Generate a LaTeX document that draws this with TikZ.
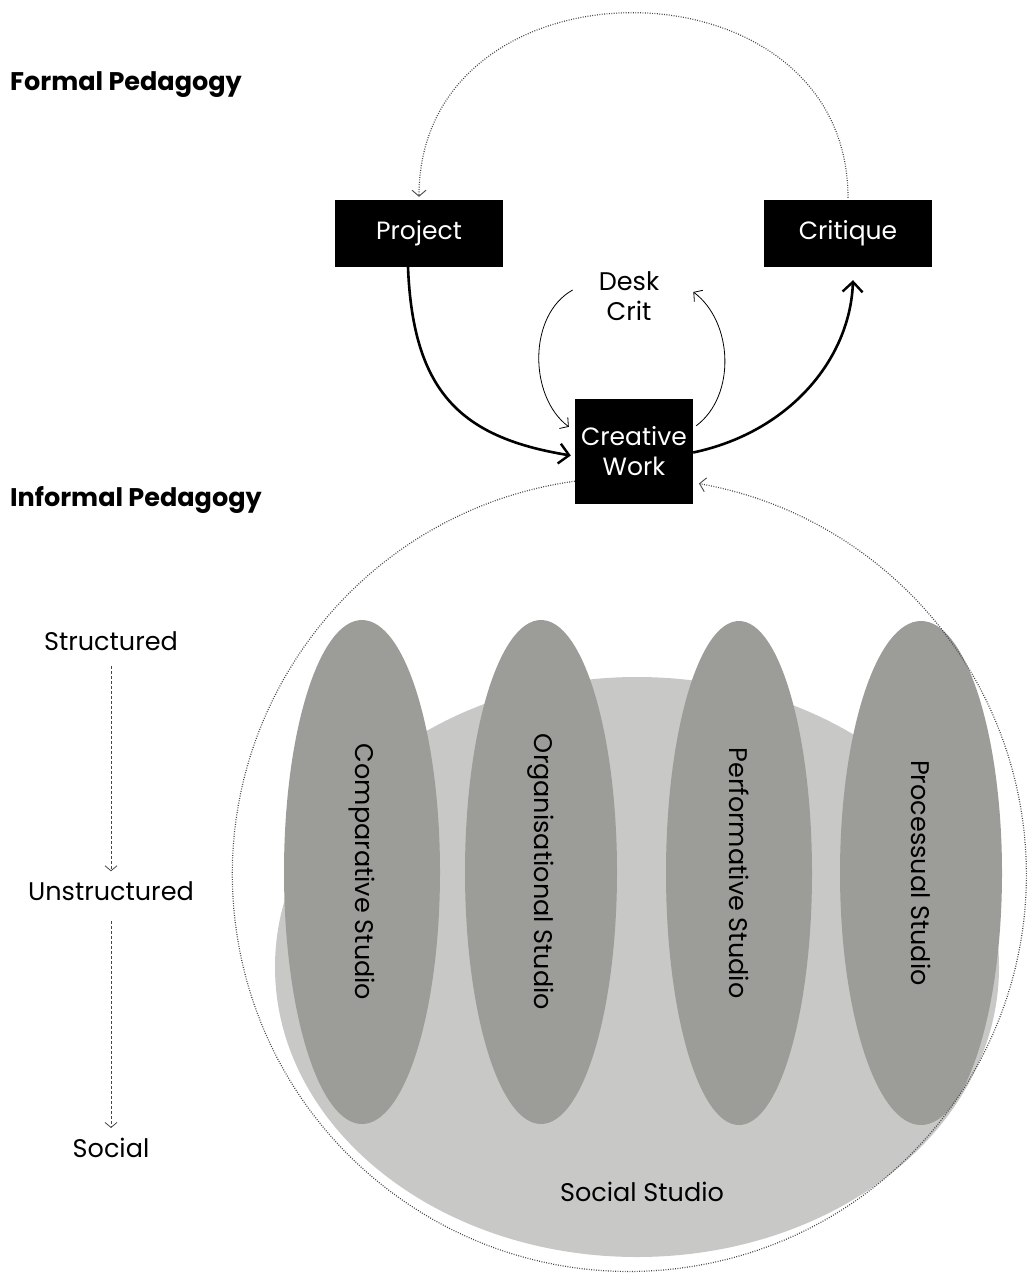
\documentclass[tikz,border=0pt]{standalone}
\usepackage{fontspec}
\setmainfont{Poppins}
\usetikzlibrary{arrows.meta,shapes.geometric}
\definecolor{lightg}{RGB}{200,200,199}
\definecolor{darkg}{RGB}{156,156,153}
\definecolor{dotg}{RGB}{70,70,70}
\begin{document}
\begin{tikzpicture}[x=1pt,y=-1pt,
  lbl/.style={font=\fontsize{25.5}{30}\selectfont, inner sep=0pt, align=center},
  head/.style={font=\fontsize{25.5}{30}\selectfont\bfseries, inner sep=0pt, anchor=west},
  blk/.style={fill=black, text=white, font=\fontsize{25}{30}\selectfont, align=center, inner sep=0pt},
  studio/.style={ellipse, fill=darkg, inner sep=0pt, rotate=-90, minimum width=504pt, font=\fontsize{25.5}{30}\selectfont},
  bigarr/.style={line width=2.6pt, -{Straight Barb[length=10pt,width=20pt,line width=2.4pt]}},
  smallarr/.style={line width=0.8pt, -{Straight Barb[length=6pt,width=14pt,line width=0.8pt]}},
  dots/.style={draw=dotg, line width=1.2pt, dash pattern=on 0.9pt off 1.5pt},
  dotarr/.style={dots, -{Straight Barb[length=6pt,width=14pt,line width=0.9pt]}},
  dasharr/.style={draw=dotg, line width=0.9pt, dash pattern=on 3pt off 2pt, -{Straight Barb[length=5pt,width=12pt,line width=0.8pt]}}
]
\useasboundingbox (0,0) rectangle (1027,1279);

% Social studio background
\node[ellipse, fill=lightg, minimum width=724pt, minimum height=580pt, inner sep=0pt] (soc) at (637,967) {};
\node[lbl] (soct) at (642,1192) {Social Studio};

% Studio ellipses
\node[studio, minimum height=156pt] (comp) at (362,872) {Comparative Studio};
\node[studio, minimum height=152pt] (org) at (541,872) {Organisational Studio};
\node[studio, minimum height=146pt] (perf) at (739,873) {Performative Studio};
\node[studio, minimum height=162pt] (proc) at (921,873) {Processual Studio};

% headings
\node[head] (fp) at (10,85) {Formal Pedagogy};
\node[head] (ip) at (10,500) {Informal Pedagogy};

% boxes
\node[blk, minimum width=168pt, minimum height=67pt] (proj) at (419,233.5) {Project};
\node[blk, minimum width=168pt, minimum height=67pt] (crit) at (848,233.5) {Critique};
\node[blk, minimum width=118pt, minimum height=105pt] (cw) at (634,451.5) {Creative\\Work};
\node[lbl] (desk) at (629,296) {Desk\\Crit};

% big informal circle
\draw[dotarr] ([yshift=23pt]cw.south west) arc[start angle=262.1, end angle=-79.9, radius=397];

% top dotted arc
\draw[dotarr] ([yshift=2pt]crit.north) .. controls +(0,-246) and +(0,-246) .. ([yshift=3pt]proj.north);

% thick arrows
\draw[bigarr] ([xshift=-11pt]proj.south) .. controls +(5,125) and +(-110,-18) .. ([xshift=-4pt,yshift=-4pt]cw.west);
\draw[bigarr] ([yshift=-1pt]cw.east) .. controls +(95,-20) and +(-3,80) .. ([xshift=5pt,yshift=-13pt]crit.south);

% desk crit arrows
\draw[smallarr] ([xshift=-26pt,yshift=6pt]desk.west) .. controls +(-45,25) and +(-40,-30) .. ([xshift=-6pt,yshift=-28pt]cw.north west);
\draw[smallarr] ([xshift=3pt,yshift=-27pt]cw.north east) .. controls +(40,-30) and +(40,30) .. ([xshift=34pt,yshift=4pt]desk.east);

% left column
\node[lbl] (str) at (111,641) {Structured};
\node[lbl] (uns) at (111,891) {Unstructured};
\node[lbl] (socl) at (111,1148) {Social};
\draw[dasharr, shorten <=15pt, shorten >=10pt] (str.south) -- (uns.north);
\draw[dasharr, shorten <=20pt, shorten >=10pt] (uns.south) -- (socl.north);
\end{tikzpicture}
\end{document}
